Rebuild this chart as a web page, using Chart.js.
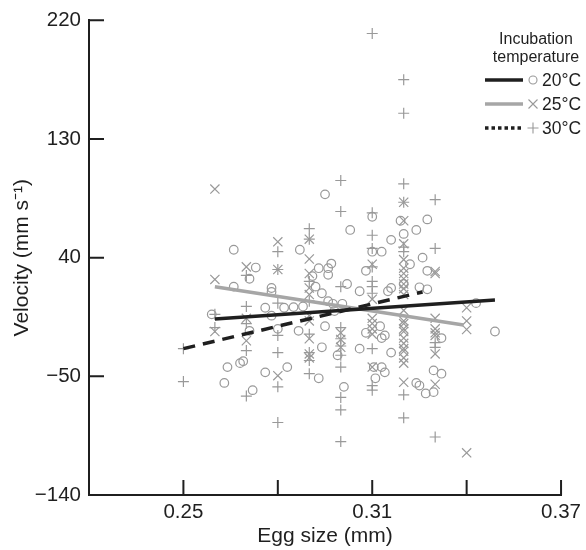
<!DOCTYPE html>
<html>
<head>
<meta charset="utf-8">
<script src="https://cdn.jsdelivr.net/npm/chart.js@4"></script>
<style>
  body { margin: 0; background: #fff; }
  #wrap { width: 586px; height: 550px; }
</style>
</head>
<body>
<div id="wrap"><canvas id="chart"></canvas></div>
<script>
// Axis ticks
const xTicks = [0.25, 0.28, 0.31, 0.34, 0.37];
const xLabelled = [0.25, 0.31, 0.37];
const yTicks = [-140, -50, 40, 130, 220];

// 20°C observations (circles)
const x20 = [0.266,0.266,0.271,0.273,0.278,0.278,0.276,0.278,0.259,0.271,
  0.282,0.280,0.264,0.268,0.269,0.263,0.276,0.283,0.272,0.295,
  0.303,0.310,0.316,0.313,0.310,0.287,0.293,0.296,0.296,0.291,
  0.292,0.294,0.302,0.306,0.308,0.316,0.285,0.288,0.296,0.2975,
  0.298,0.319,0.320,0.324,0.3275,0.326,0.322,0.3275,0.320,0.325,
  0.3275,0.315,0.297,0.3005,0.343,0.349,0.2866,0.295,0.294,0.293,
  0.299,0.301,0.306,0.308,0.313,0.314,0.311,0.313,0.3105,0.314,
  0.316,0.3125,0.325,0.327,0.324,0.332,0.3295,0.332,0.3295];
const y20 = [46,18,24,32.5,17,14,2,-4,-3,-15.5,
  2,-14,-43,-40,-38.5,-55,-47,-43,-60.5,88,
  61,71,53.5,44.5,44.5,46,32,32,27,26,
  18,13,20,14.5,30,17,2.5,3,7,5,
  -0.5,68,58,61,69,40,35,30,20,17.5,
  16,14.5,35.5,5,5.5,-16,-15.5,-12,-28,-51.5,
  -34,-58,-29,-17,-21,-19,-51.5,-43,-43,-47,
  -32,-12,-57,-63,-55,-21,-45.5,-48,-62];

// 25°C observations (crosses)
const x25 = [0.26,0.26,0.26, 0.27,0.27,0.27, 0.28,0.28,0.28,
  0.29,0.29,0.29,0.29,0.29,0.29,0.29,0.29,0.29,0.29,
  0.30,0.30,0.30,
  0.31,0.31,0.31,0.31,0.31,0.31,0.31,
  0.32,0.32,0.32,0.32,0.32,0.32,0.32,0.32,0.32,0.32,0.32,
  0.32,0.32,0.32,0.32,0.32,0.32,0.32,0.32,0.32,0.32,0.32,
  0.33,0.33,0.33,0.33,0.33,0.33,0.33,0.33,
  0.34,0.34,0.34,0.34];
const y25 = [92,23.5,-16, 33,-6,-23, 52,31,-49.5,
  54,39,28,17,12,-4,-8,-21.5,-33,-36,
  -17,-22,-28,
  35,8.5,-6,-10,-14,-18,-43,
  82,68,50.5,38.5,32,28,24,20,16.5,12,0,
  -8,-10,-14,-16,-21,-25,-29,-31,-36,-40,-54.5,
  29.5,28,-6,-14,-17,-19,-33,-56,
  2,-8,-14.5,-108];

// 30°C observations (plus signs)
const x30 = [0.25,0.25, 0.26,0.26, 0.27,0.27,0.27,0.27,0.27,
  0.28,0.28,0.28,0.28,0.28,0.28,0.28,
  0.29,0.29,0.29,0.29,0.29,0.29,0.29,0.29,
  0.30,0.30,0.30,0.30,0.30,0.30,0.30,0.30,0.30,0.30,0.30,
  0.31,0.31,0.31,0.31,0.31,0.31,0.31,0.31,0.31,0.31,0.31,
  0.32,0.32,0.32,0.32,0.32,0.32,0.32,0.32,
  0.33,0.33,0.33,0.33,0.33];
const y30 = [-29,-54, -3,-13, 26.5,3,-10,-30.5,-65,
  44.5,31,5.5,-19,-32,-58,-85,
  62,54,22,7,-18,-32,-38,-48,
  98.5,75,18,-13,-21.5,-27,-34,-43,-66,-75.5,-99.5,
  210,74,57,47,33,22,18,13,-29,-57,-60.5,
  175,149.5,96,82,48,44.5,-64,-81.5,
  84,47,-24.5,-28,-96];

// Fitted lines (end points)
const fit20X = [0.26, 0.349], fit20Y = [-6.5, 7.8];
const fit25X = [0.26, 0.339], fit25Y = [18, -11];
const fit30X = [0.25, 0.326], fit30Y = [-29, 14];

const legendLabels = ['20°C', '25°C', '30°C'];

const FONT = '"Liberation Sans", Arial, Helvetica, sans-serif';
const INK = '#1f1f1f';
const GREY_PT = '#999999';
const GREY_LINE = '#a6a6a6';

function zip(xs, ys) {
  return xs.map((x, i) => ({ x: x, y: ys[i] }));
}

function pointSet(label, xs, ys, style, radius) {
  return {
    label: label,
    data: zip(xs, ys),
    pointStyle: style,
    pointRadius: radius,
    pointBorderColor: GREY_PT,
    pointBackgroundColor: 'rgba(0,0,0,0)',
    pointBorderWidth: 1.2,
    showLine: false,
    order: 10
  };
}

function fitLine(label, xs, ys, color, dash) {
  return {
    label: label,
    data: zip(xs, ys),
    showLine: true,
    borderColor: color,
    borderWidth: 3.5,
    borderDash: dash,
    borderCapStyle: 'butt',
    pointRadius: 0,
    order: 1
  };
}

// inward tick marks on both axes
const innerTicks = {
  id: 'innerTicks',
  afterDraw(chart) {
    const ctx = chart.ctx;
    const area = chart.chartArea;
    const xs = chart.scales.x, ys = chart.scales.y;
    ctx.save();
    ctx.strokeStyle = INK;
    ctx.lineWidth = 2;
    ctx.beginPath();
    xTicks.forEach(v => {
      const px = xs.getPixelForValue(v);
      ctx.moveTo(px, area.bottom);
      ctx.lineTo(px, area.bottom - 15);
    });
    yTicks.forEach(v => {
      if (v === yTicks[0]) return;
      const py = ys.getPixelForValue(v);
      ctx.moveTo(area.left, py);
      ctx.lineTo(area.left + 15, py);
    });
    ctx.stroke();
    ctx.restore();
  }
};

// legend: header, line sample, marker, label
const tempLegend = {
  id: 'tempLegend',
  afterDraw(chart) {
    const ctx = chart.ctx;
    ctx.save();
    ctx.fillStyle = INK;
    ctx.font = '16px ' + FONT;
    ctx.textAlign = 'center';
    ctx.textBaseline = 'middle';
    ctx.fillText('Incubation', 536, 40);
    ctx.fillText('temperature', 536, 58);

    const lineColors = [INK, GREY_LINE, INK];
    const dashes = [[], [], [3.5, 3]];
    legendLabels.forEach((lab, i) => {
      const y = 80 + i * 24;
      ctx.strokeStyle = lineColors[i];
      ctx.lineWidth = 3.5;
      ctx.setLineDash(dashes[i]);
      ctx.beginPath();
      ctx.moveTo(485, y);
      ctx.lineTo(523, y);
      ctx.stroke();
      ctx.setLineDash([]);

      ctx.strokeStyle = GREY_PT;
      ctx.lineWidth = 1.1;
      ctx.beginPath();
      const mx = 533;
      if (i === 0) {
        ctx.arc(mx, y, 4, 0, Math.PI * 2);
      } else if (i === 1) {
        ctx.moveTo(mx - 4.5, y - 4.5); ctx.lineTo(mx + 4.5, y + 4.5);
        ctx.moveTo(mx - 4.5, y + 4.5); ctx.lineTo(mx + 4.5, y - 4.5);
      } else {
        ctx.moveTo(mx - 5.5, y); ctx.lineTo(mx + 5.5, y);
        ctx.moveTo(mx, y - 5.5); ctx.lineTo(mx, y + 5.5);
      }
      ctx.stroke();

      ctx.fillStyle = INK;
      ctx.textAlign = 'left';
      ctx.font = '17.5px ' + FONT;
      ctx.fillText(lab, 542, y + 1);
    });
    ctx.restore();
  }
};

new Chart(document.getElementById('chart'), {
  type: 'scatter',
  data: {
    datasets: [
      fitLine('30°C fit', fit30X, fit30Y, INK, [12, 8]),
      fitLine('20°C fit', fit20X, fit20Y, INK, []),
      fitLine('25°C fit', fit25X, fit25Y, GREY_LINE, []),
      pointSet('20°C', x20, y20, 'circle', 4.3),
      pointSet('25°C', x25, y25, 'crossRot', 6.5),
      pointSet('30°C', x30, y30, 'cross', 5.5)
    ]
  },
  options: {
    responsive: true,
    maintainAspectRatio: false,
    animation: false,
    layout: { padding: { top: 16, right: 19, left: 0, bottom: 0 } },
    plugins: {
      legend: { display: false },
      tooltip: { enabled: false }
    },
    scales: {
      x: {
        type: 'linear',
        min: 0.22,
        max: 0.37,
        afterBuildTicks: s => { s.ticks = xTicks.map(v => ({ value: v })); },
        afterFit: s => { s.height = 55; },
        grid: { display: false, drawTicks: false },
        border: { display: true, color: INK, width: 2 },
        ticks: {
          padding: 5,
          color: INK,
          font: { family: FONT, size: 20.5 },
          maxRotation: 0,
          autoSkip: false,
          callback: v => xLabelled.includes(v) ? v.toFixed(2) : ''
        },
        title: {
          display: true,
          text: 'Egg size (mm)',
          color: INK,
          font: { family: FONT, size: 21 },
          padding: { top: 0, bottom: 1 }
        }
      },
      y: {
        type: 'linear',
        min: -140,
        max: 220,
        afterBuildTicks: s => { s.ticks = yTicks.map(v => ({ value: v })); },
        afterFit: s => { s.width = 89; },
        grid: { display: false, drawTicks: false },
        border: { display: true, color: INK, width: 2 },
        ticks: {
          padding: 8,
          color: INK,
          font: { family: FONT, size: 20.5 },
          callback: v => v < 0 ? '\u2212' + Math.abs(v) : String(v)
        },
        title: {
          display: true,
          text: 'Velocity (mm s\u207B\u00B9)',
          color: INK,
          font: { family: FONT, size: 21 },
          padding: { top: 10, bottom: 0 }
        }
      }
    }
  },
  plugins: [innerTicks, tempLegend]
});
</script>
</body>
</html>
